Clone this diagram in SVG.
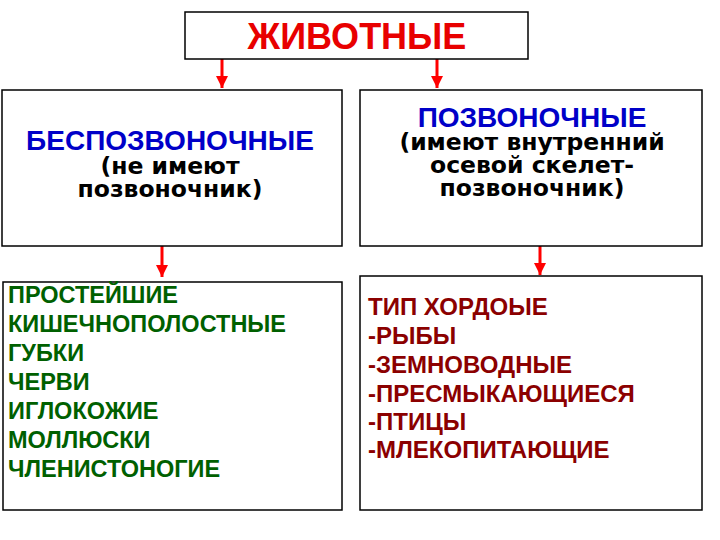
<svg xmlns="http://www.w3.org/2000/svg" width="720" height="540" viewBox="0 0 720 540">
<style>
.box{fill:#fff;stroke:#000;stroke-width:1.5}
text{font-family:"Liberation Sans",Arial,sans-serif;font-weight:bold}
.title{fill:#e80000;font-size:36px}
.head{fill:#0000c8;font-size:28px}
.sub{fill:#000;font-size:23.5px;font-family:"DejaVu Sans",Verdana,sans-serif}
.green{fill:#006000;font-size:23.5px}
.red{fill:#8b0000;font-size:24px}
.conn{stroke:#f00;stroke-width:3;fill:none}
</style>
<defs>
<marker id="ah" viewBox="0 0 10 10" refX="10" refY="5" markerWidth="4" markerHeight="4" markerUnits="strokeWidth" orient="auto">
<path d="M0,0 L10,5 L0,10 Z" fill="#f00"/>
</marker>
</defs>
<rect width="720" height="540" fill="#fff"/>
<g id="connectors">
<line class="conn" x1="222" y1="59" x2="222" y2="88" marker-end="url(#ah)"/>
<line class="conn" x1="437" y1="59" x2="437" y2="88" marker-end="url(#ah)"/>
<line class="conn" x1="162" y1="246" x2="162" y2="277" marker-end="url(#ah)"/>
<line class="conn" x1="540" y1="246" x2="540" y2="275" marker-end="url(#ah)"/>
</g>
<g id="animals">
<rect class="box" x="185" y="12" width="343" height="47"/>
<text class="title" x="357" y="49" text-anchor="middle">ЖИВОТНЫЕ</text>
</g>
<g id="invertebrates">
<rect class="box" x="2" y="90" width="340" height="156"/>
<text class="head" x="170" y="150" text-anchor="middle">БЕСПОЗВОНОЧНЫЕ</text>
<text class="sub" x="170" y="174" text-anchor="middle">(не имеют</text>
<text class="sub" x="170" y="197" text-anchor="middle">позвоночник)</text>
</g>
<g id="vertebrates">
<rect class="box" x="360" y="90" width="342" height="156"/>
<text class="head" x="532" y="127" text-anchor="middle">ПОЗВОНОЧНЫЕ</text>
<text class="sub" x="532" y="150" text-anchor="middle">(имеют внутренний</text>
<text class="sub" x="532" y="173" text-anchor="middle">осевой скелет-</text>
<text class="sub" x="532" y="196" text-anchor="middle">позвоночник)</text>
</g>
<g id="invertebrate-list">
<rect class="box" x="3" y="282" width="339" height="228"/>
<text class="green" x="8" y="303">ПРОСТЕЙШИЕ</text>
<text class="green" x="8" y="332">КИШЕЧНОПОЛОСТНЫЕ</text>
<text class="green" x="8" y="361">ГУБКИ</text>
<text class="green" x="8" y="390">ЧЕРВИ</text>
<text class="green" x="8" y="419">ИГЛОКОЖИЕ</text>
<text class="green" x="8" y="448">МОЛЛЮСКИ</text>
<text class="green" x="8" y="477">ЧЛЕНИСТОНОГИЕ</text>
</g>
<g id="vertebrate-list">
<rect class="box" x="360" y="276" width="342" height="234"/>
<text class="red" x="368" y="315">ТИП ХОРДОЫЕ</text>
<text class="red" x="368" y="344">-РЫБЫ</text>
<text class="red" x="368" y="373">-ЗЕМНОВОДНЫЕ</text>
<text class="red" x="368" y="402">-ПРЕСМЫКАЮЩИЕСЯ</text>
<text class="red" x="368" y="430">-ПТИЦЫ</text>
<text class="red" x="368" y="458">-МЛЕКОПИТАЮЩИЕ</text>
</g>
</svg>
